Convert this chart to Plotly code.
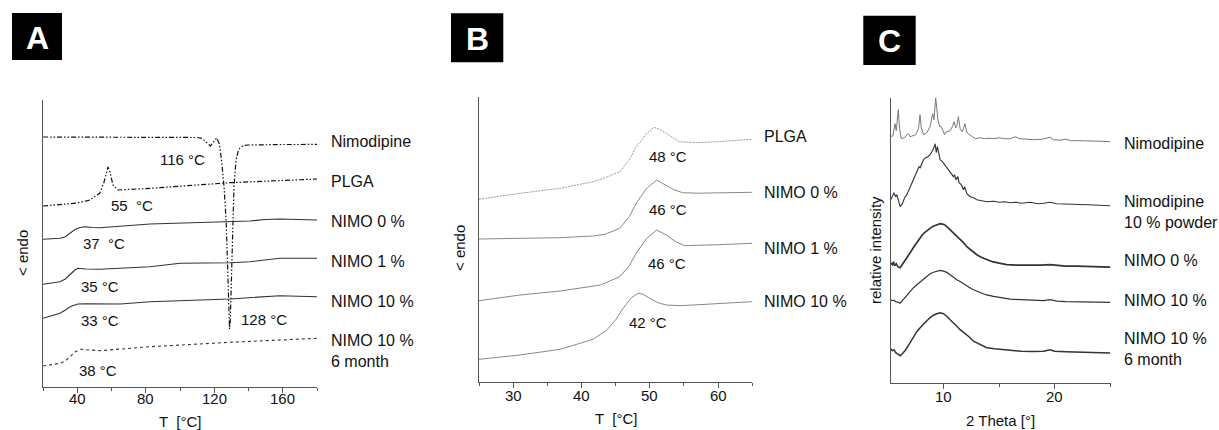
import plotly.graph_objects as go

# ---------------- Panel A: DSC thermograms (20-180 °C) ----------------
a_nimo_T = [20, 40, 60, 80, 100, 110, 113, 115.5, 117.7, 119.5, 121.4, 123, 124.4, 125.7,
            126.9, 127.8, 128.6, 128.9, 129.3, 129.8, 130.3, 130.7, 131.5, 132.7, 134, 135,
            137, 140, 150, 160, 170, 180]
a_nimo = [250, 250, 250, 250, 249.5, 249.5, 248.5, 245, 241, 245, 249, 243, 224, 200,
          167, 120, 70, 58, 64, 100, 140, 170, 200, 227, 236, 239,
          241.5, 242, 242.5, 242.5, 242.5, 242.7]

a_plga_T = [20, 30, 40, 47.4, 53.2, 55.6, 57.9, 59.1, 60.8, 63.7, 82.4, 129.2, 180]
a_plga = [181, 182.5, 184, 187, 194, 205, 220, 215, 202, 197, 198.7, 204.3, 208]

a_n0_T = [20, 29.9, 32.8, 35.7, 38.6, 41.6, 44.5, 48.6, 53.2, 82.4, 129.2, 140.9, 149.6, 158.3, 180]
a_n0 = [147.7, 148.7, 150, 153.5, 157.5, 159.5, 160.3, 159.5, 159.3, 163, 165, 166, 167.5, 168, 167]

a_n1_T = [20, 29.9, 33, 36, 38.6, 40.3, 45, 53.2, 82.4, 100, 129.2, 140.9, 158.3, 180]
a_n1 = [102.7, 105.3, 108, 113, 117, 118.7, 118, 117.7, 120.3, 123.7, 124.3, 125.3, 128.7, 128.7]

a_n10_T = [20, 29.9, 33, 36, 40.3, 45, 65.1, 82.4, 129.2, 158.3, 180]
a_n10 = [68.7, 73.7, 77, 80.5, 83, 83.2, 83, 85.3, 88, 91.3, 90.3]

a_n10m_T = [20, 29.9, 33, 35.7, 38.6, 41.6, 45, 53.2, 82.4, 129.2, 180]
a_n10m = [21, 23.7, 26, 30, 35, 37.7, 37.5, 36.3, 40.3, 44.7, 48.7]

a_peak_text = ["116 °C", "55  °C", "37  °C", "35 °C", "33 °C", "128 °C", "38 °C"]
a_peak_T = [101.2, 72, 55.6, 53.2, 53.2, 149.1, 52.1]
a_peak_y = [228, 181.3, 144, 101, 66.3, 68, 17]

a_names = ["Nimodipine", "PLGA", "NIMO 0 %", "NIMO 1 %", "NIMO 10 %", "NIMO 10 %<br>6 month"]
a_name_y = [245.3, 205.3, 166, 126, 86, 36]
a_ticks = [40, 80, 120, 160]

# ---------------- Panel B: glass transition region (25-65 °C) ----------------
b_plga_T = [25, 31, 36.9, 41.7, 43.5, 45.6, 47, 48, 49, 49.5, 50.6, 51.5, 52.4, 53.3, 54.3, 56.8, 60, 65]
b_plga = [182.4, 188.4, 193.4, 200, 204, 210, 222, 235, 243, 248, 254.4, 252, 248.4, 244, 240, 239, 240, 242.4]

b_n0_T = [25, 31, 36.9, 41.7, 43.5, 45.6, 47, 48, 49.5, 51, 52.4, 53.5, 54.8, 57, 65]
b_n0 = [142.7, 143, 144, 145.7, 147.5, 153.4, 165, 178.4, 193, 201.7, 196.7, 192, 189, 188.5, 189.4]

b_n1_T = [25, 31, 36.9, 42.8, 45.6, 47, 48, 49.5, 51, 52.4, 53.8, 55.1, 60, 65]
b_n1 = [81, 86.7, 90.7, 96.7, 105, 116, 128.4, 143, 151.7, 146.7, 140, 136, 137, 138.4]

b_n10_T = [25, 31, 36.9, 41.7, 43.7, 45, 46.1, 47.3, 48.3, 49, 50, 51.2, 52.4, 54.5, 65]
b_n10 = [22.4, 26.7, 32.4, 42.4, 51.7, 62, 73.4, 84, 88.4, 87.5, 83.4, 79, 76.7, 76, 80]

b_peak_text = ["48 °C", "46 °C", "46 °C", "42 °C"]
b_peak_T = [52.7, 52.7, 52.5, 49.8]
b_peak_y = [225, 172.4, 118.4, 59]

b_names = ["PLGA", "NIMO 0 %", "NIMO 1 %", "NIMO 10 %"]
b_name_y = [245, 189, 133.4, 80]
b_ticks = [30, 40, 50, 60]

# ---------------- Panel C: X-ray powder diffraction ----------------
c_nimo_th = [5.25, 5.45, 5.64, 5.75, 5.93, 6.05, 6.2, 6.5, 6.7, 6.84, 7.0, 7.2, 7.5, 7.75, 7.89,
             8.0, 8.2, 8.5, 8.8, 9.03, 9.15, 9.3, 9.42, 9.5, 9.65, 9.8, 10.1, 10.25, 10.4, 10.6,
             10.8, 10.95, 11.1, 11.2, 11.34, 11.5, 11.7, 11.94, 12.1, 12.3, 12.6, 12.9, 13.3,
             13.7, 14.2, 14.6, 15.0, 15.4, 16.0, 16.5, 16.8, 17.5, 18.2, 18.9, 19.3, 19.6,
             19.9, 20.5, 21.0, 21.5, 22.2, 23.0, 24.0, 25.0]
c_nimo = [246, 247, 259, 252, 273, 254, 244, 245, 248, 249, 246, 247, 248, 254, 268,
          255, 248, 250, 256, 269, 263, 285, 266, 263, 256, 256, 248, 251, 251, 252,
          256, 261, 255, 257, 266, 254, 251, 259, 250, 248, 246, 244, 245,
          244, 244.5, 244, 245, 244, 244, 246, 244, 243.5, 243, 243.5, 245, 245.5,
          243, 242.5, 243.5, 242, 242, 242, 241.5, 241]

c_pow_th = [5.25, 5.4, 5.55, 5.7, 5.8, 5.95, 6.1, 6.3, 6.5, 6.7, 6.9, 7.1, 7.3, 7.5, 7.6, 7.8,
            7.9, 8.1, 8.2, 8.4, 8.6, 8.8, 9.0, 9.1, 9.25, 9.35, 9.45, 9.55, 9.7, 9.9, 10.1,
            10.3, 10.5, 10.7, 10.9, 11.0, 11.1, 11.3, 11.4, 11.6, 11.8, 11.9, 12.1, 12.4,
            12.7, 13.0, 13.4, 13.9, 14.5, 15.0, 15.5, 16.0, 16.5, 17.0, 17.8, 18.5, 19.0,
            19.6, 20.2, 21.0, 22.0, 23.0, 24.0, 25.0]
c_pow = [183, 186, 190, 186, 188, 182, 176, 179, 185, 188, 193, 198, 203, 208, 210, 216,
         215, 221, 223, 225, 226, 228, 232, 234, 239, 230, 236, 229, 223, 221, 218,
         216, 212, 209, 206, 208, 203, 206, 200, 198, 193, 196, 189, 186,
         185, 183, 182, 181, 181.5, 180.5, 181, 180, 180.5, 179.5, 180.5, 179, 179.5,
         180.5, 179, 178.5, 178, 178, 177.5, 177]

c_n0_th = [5.25, 5.4, 5.5, 5.6, 5.75, 5.9, 6.1, 6.3, 6.5, 6.7, 7.0, 7.2, 7.4, 7.6, 7.9, 8.1,
           8.3, 8.5, 8.8, 9.0, 9.2, 9.4, 9.7, 9.9, 10.1, 10.3, 10.6, 10.9, 11.2, 11.5, 11.8,
           12.1, 12.4, 12.7, 13.0, 13.4, 13.9, 14.4, 15.0, 15.7, 16.5, 17.3, 18.0, 18.8,
           19.6, 20.2, 21.0, 22.0, 23.0, 24.0, 25.0]
c_n0 = [120, 118, 121, 117, 119, 116, 115, 118, 122, 125, 130, 134, 137, 140, 145, 148,
        150, 152, 155, 156, 157, 158, 159, 158.5, 158, 156, 153, 149, 146, 143, 140,
        136, 133, 130, 128, 125.5, 123, 121, 119.5, 118, 117.5, 117.5, 117, 117.5,
        118, 117.5, 116.5, 116.5, 116, 115.5, 115.5]

c_n10_th = [5.25, 5.4, 5.55, 5.7, 5.9, 6.1, 6.3, 6.6, 7.0, 7.3, 7.6, 7.9, 8.2, 8.5, 8.8, 9.1,
            9.4, 9.7, 10.0, 10.3, 10.6, 10.9, 11.2, 11.5, 11.9, 12.3, 12.7, 13.2, 13.8, 14.5,
            15.3, 16.0, 17.0, 18.0, 19.0, 19.6, 20.2, 21.0, 22.0, 23.0, 24.0, 25.0]
c_n10 = [83, 82, 82.5, 81, 80.5, 79.5, 82, 86, 91, 95, 98, 101, 104, 107, 109, 110.5,
         111.5, 112.3, 111.5, 110.3, 108, 105, 103, 101.3, 98, 95.5, 93, 90.5, 88, 86.3,
         84.5, 83.5, 83, 82.5, 82, 83, 81.5, 81, 80.7, 80.5, 80.5, 80.3]

c_n10m_th = [5.25, 5.4, 5.55, 5.7, 5.9, 6.1, 6.3, 6.6, 7.0, 7.3, 7.6, 7.9, 8.2, 8.5, 8.8, 9.1,
             9.4, 9.7, 10.0, 10.3, 10.6, 10.9, 11.2, 11.5, 11.9, 12.3, 12.7, 13.2, 13.9, 14.6,
             15.4, 16.2, 17.0, 18.0, 19.0, 19.6, 20.0, 21.0, 22.0, 23.0, 24.0, 25.0]
c_n10m = [34, 32, 33, 30, 28.5, 27, 29, 33, 40, 46, 51, 55, 59, 62, 65, 67.5,
          69, 70, 69, 66.5, 63, 60, 56.5, 53, 49.5, 46, 41.5, 38.5, 35, 34,
          33, 32, 31.5, 31.3, 31.5, 33, 31.5, 31, 30.5, 30, 30, 29.7]

c_names = ["Nimodipine", "Nimodipine<br>10 % powder", "NIMO 0 %", "NIMO 10 %", "NIMO 10 %<br>6 month"]
c_name_y = [239.4, 171, 122, 82.7, 33.4]
c_ticks = [10, 20]

# ---------------- layout geometry ----------------
W, H = 1219, 430
FONT = "Liberation Sans, Arial, sans-serif"
AXIS_COLOR = "#555555"


def px_x(p):
    return p / W


def px_y(p):
    return 1 - p / H


fig = go.Figure()


def add_line(x, y, xa, ya, color, width, dash="solid"):
    fig.add_trace(go.Scatter(x=x, y=y, xaxis=xa, yaxis=ya, mode="lines",
                             line=dict(color=color, width=width, dash=dash),
                             hoverinfo="skip", showlegend=False))


DASHDOTDOT = "5px,2px,1.5px,2px,1.5px,2px"

# Panel A traces
add_line(a_nimo_T, a_nimo, "x", "y", "#111111", 1.2, DASHDOTDOT)
add_line(a_plga_T, a_plga, "x", "y", "#111111", 1.2, DASHDOTDOT)
add_line(a_n0_T, a_n0, "x", "y", "#333333", 1.1)
add_line(a_n1_T, a_n1, "x", "y", "#333333", 1.1)
add_line(a_n10_T, a_n10, "x", "y", "#333333", 1.1)
add_line(a_n10m_T, a_n10m, "x", "y", "#333333", 1.1, "3px,3px")

# Panel B traces
add_line(b_plga_T, b_plga, "x2", "y2", "#999999", 1.0, "2px,1px")
add_line(b_n0_T, b_n0, "x2", "y2", "#888888", 1.0)
add_line(b_n1_T, b_n1, "x2", "y2", "#888888", 1.0)
add_line(b_n10_T, b_n10, "x2", "y2", "#888888", 1.0)

# Panel C traces
add_line(c_nimo_th, c_nimo, "x3", "y3", "#777777", 1.0)
add_line(c_pow_th, c_pow, "x3", "y3", "#333333", 1.1)
add_line(c_n0_th, c_n0, "x3", "y3", "#333333", 1.7)
add_line(c_n10_th, c_n10, "x3", "y3", "#333333", 1.2)
add_line(c_n10m_th, c_n10m, "x3", "y3", "#333333", 1.5)


def xaxis_cfg(left, right, rng, dtick, minor):
    return dict(domain=[px_x(left), px_x(right)], range=rng, showgrid=False, zeroline=False,
                showline=True, linecolor=AXIS_COLOR, linewidth=1,
                ticks="outside", ticklen=5, tickcolor=AXIS_COLOR, tickwidth=1,
                tick0=0, dtick=dtick, showticklabels=False,
                minor=dict(dtick=minor, tick0=0, ticks="outside", ticklen=3, tickcolor=AXIS_COLOR),
                fixedrange=True)


def yaxis_cfg(top, bottom, rng, anchor):
    return dict(domain=[px_y(bottom), px_y(top)], range=rng, showgrid=False, zeroline=False,
                showline=True, linecolor=AXIS_COLOR, linewidth=1, showticklabels=False,
                ticks="", anchor=anchor, fixedrange=True)


fig.update_layout(
    width=W, height=H, margin=dict(l=0, r=0, t=0, b=0),
    paper_bgcolor="white", plot_bgcolor="white",
    xaxis=dict(xaxis_cfg(43.1, 317, [20, 180], 40, 20), anchor="y"),
    yaxis=yaxis_cfg(100, 387, [0, 287], "x"),
    xaxis2=dict(xaxis_cfg(479, 752.3, [25, 65], 10, 5), anchor="y2"),
    yaxis2=yaxis_cfg(96.7, 381.7, [0, 285], "x2"),
    xaxis3=dict(xaxis_cfg(890.7, 1110.7, [5.25, 25.05], 10, 5), anchor="y3"),
    yaxis3=yaxis_cfg(97.7, 382.7, [0, 285], "x3"),
)

ann = []


def text(x, y, s, xref, yref, size=15, xanchor="center", yanchor="middle", angle=0,
         color="#111111", bold=False):
    ann.append(dict(x=x, y=y, xref=xref, yref=yref, text=("<b>%s</b>" % s) if bold else s,
                    showarrow=False, xanchor=xanchor, yanchor=yanchor, textangle=angle,
                    font=dict(family=FONT, size=size, color=color), align="left"))


# tick labels, placed on each panel's own x scale
for t in a_ticks:
    text(t, px_y(398), str(t), "x", "paper")
for t in b_ticks:
    text(t, px_y(395), str(t), "x2", "paper")
for t in c_ticks:
    text(t, px_y(396.7), str(t), "x3", "paper")

# peak temperature labels
for s, t, v in zip(a_peak_text, a_peak_T, a_peak_y):
    text(t, v, s, "x", "y")
for s, t, v in zip(b_peak_text, b_peak_T, b_peak_y):
    text(t, v, s, "x2", "y2")

# sample names to the right of each panel
for s, v in zip(a_names, a_name_y):
    text(px_x(329), v, s, "paper", "y", size=16, xanchor="left")
for s, v in zip(b_names, b_name_y):
    text(px_x(761.7), v, s, "paper", "y2", size=16, xanchor="left")
for s, v in zip(c_names, c_name_y):
    text(px_x(1122), v, s, "paper", "y3", size=16, xanchor="left")

# axis titles
text(px_x(180), px_y(421), "T  [°C]", "paper", "paper", size=15)
text(px_x(616), px_y(418), "T  [°C]", "paper", "paper", size=15)
text(px_x(1000), px_y(420), "2 Theta [°]", "paper", "paper", size=15)
text(px_x(23), px_y(253), "&lt; endo", "paper", "paper", size=15, angle=-90)
text(px_x(459), px_y(248), "&lt; endo", "paper", "paper", size=15, angle=-90)
text(px_x(875), px_y(250), "relative intensity", "paper", "paper", size=15, angle=-90)

# panel letters in black boxes
shapes = []
for letter, (x0, y0, x1, y1) in zip(["A", "B", "C"],
                                    [(12, 13, 62, 60), (451, 13.3, 503.3, 62.3),
                                     (863.3, 15.7, 915.7, 65)]):
    shapes.append(dict(type="rect", xref="paper", yref="paper",
                       x0=px_x(x0), x1=px_x(x1), y0=px_y(y1), y1=px_y(y0),
                       fillcolor="#000000", line=dict(width=0)))
    text(px_x((x0 + x1) / 2), px_y((y0 + y1) / 2 + 1), letter, "paper", "paper",
         size=32, color="white", bold=True)

fig.update_layout(annotations=ann, shapes=shapes)
fig.write_html("out.html")
